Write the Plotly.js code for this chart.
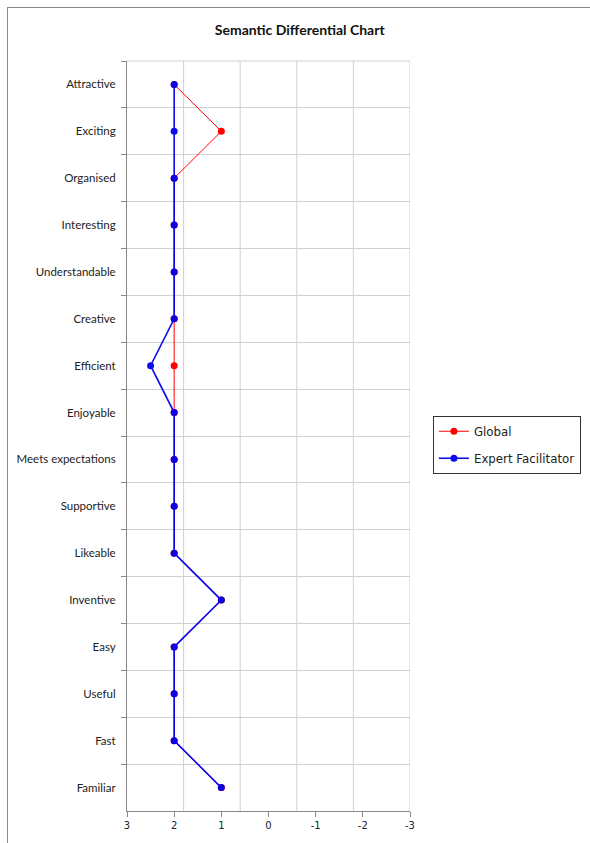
<!DOCTYPE html>
<html>
<head>
<meta charset="utf-8">
<script src="https://cdn.plot.ly/plotly-3.0.1.min.js"></script>
<style>
  html, body { margin: 0; padding: 0; background: #fff; }
  #frame {
    position: absolute; left: 7px; top: 7px; right: 0; bottom: 0;
    border-left: 1.5px solid #8a8a8a; border-top: 1.5px solid #8a8a8a;
  }
  #chart { position: absolute; left: 0; top: 0; width: 590px; height: 843px; }
</style>
</head>
<body>
<div id="frame"></div>
<div id="chart"></div>
<script>
// Adjective pairs, listed from top to bottom
const attributes = [
  "Attractive", "Exciting", "Organised", "Interesting", "Understandable",
  "Creative", "Efficient", "Enjoyable", "Meets expectations", "Supportive",
  "Likeable", "Inventive", "Easy", "Useful", "Fast", "Familiar"
];

// Mean scores on the +3 .. -3 scale
const globalScores = [2, 1, 2, 2, 2, 2, 2, 2, 2, 2, 2, 1, 2, 2, 2, 1];
const facilitatorScores = [2, 2, 2, 2, 2, 2, 2.5, 2, 2, 2, 2, 1, 2, 2, 2, 1];

// Scale labels along the bottom
const scaleValues = [3, 2, 1, 0, -1, -2, -3];
const scaleLabels = ["3", "2", "1", "0", "-1", "-2", "-3"];

// Vertical grid positions (major unit of 1.2 from the left edge)
const gridValues = [1.8, 0.6, -0.6, -1.8, -3];

const labelFont = { family: "Lato, 'Open Sans', sans-serif", size: 11.5, color: "#222" };
const gridColor = "#d0d0d0";

const traces = [
  {
    name: "Global",
    x: globalScores,
    y: attributes,
    type: "scatter",
    mode: "lines+markers",
    line: { color: "#ff0000", width: 1 },
    marker: { color: "#ff0000", size: 7 },
    legendgroup: "g1"
  },
  {
    name: "Expert Facilitator",
    x: facilitatorScores,
    y: attributes,
    type: "scatter",
    mode: "lines+markers",
    line: { color: "#0000ee", width: 1.6 },
    marker: { color: "#0000ee", size: 7 },
    opacity: 0.95,
    legendgroup: "g2"
  }
];

// Vertical gridlines on the value scale, plus the top edge of the plot area
const shapes = gridValues.map(v => ({
  type: "line", layer: "below",
  xref: "x", x0: v, x1: v,
  yref: "paper", y0: 0, y1: 1,
  line: { color: gridColor, width: 1 }
}));
shapes.push({
  type: "line", layer: "below",
  xref: "paper", x0: 0, x1: 1,
  yref: "paper", y0: 1, y1: 1,
  line: { color: gridColor, width: 1 }
});

const layout = {
  width: 590,
  height: 843,
  paper_bgcolor: "rgba(0,0,0,0)",
  plot_bgcolor: "#fff",
  margin: { l: 127, r: 180, t: 61, b: 32, autoexpand: false },
  title: {
    text: "<b>Semantic Differential Chart</b>",
    font: { family: "Lato, 'Open Sans', sans-serif", size: 14, color: "#111" },
    xref: "container", x: 0.508, xanchor: "center",
    yref: "container", y: 0.964, yanchor: "middle"
  },
  xaxis: {
    range: [3, -3],
    tickvals: scaleValues,
    ticktext: scaleLabels,
    ticks: "outside", ticklen: 5, tickcolor: "#888",
    showline: true, linecolor: "#888", linewidth: 1,
    showgrid: false, zeroline: false,
    tickfont: { family: "'DejaVu Sans', sans-serif", size: 10, color: "#222" },
    fixedrange: true
  },
  yaxis: {
    type: "category",
    categoryorder: "array",
    categoryarray: attributes,
    range: [15.5, -0.5],
    tickson: "boundaries",
    ticks: "outside", ticklen: 5, tickcolor: "#888",
    showline: true, linecolor: "#888", linewidth: 1,
    showgrid: true, gridcolor: gridColor, gridwidth: 1,
    tickfont: labelFont,
    ticklabelstandoff: 8,
    fixedrange: true
  },
  shapes: shapes,
  showlegend: true,
  legend: {
    x: 1.081, xanchor: "left",
    y: 0.527, yanchor: "top",
    bordercolor: "#333", borderwidth: 1,
    bgcolor: "#fff",
    tracegroupgap: 8,
    font: { family: "'DejaVu Sans', sans-serif", size: 11.8, color: "#222" }
  }
};

Plotly.newPlot("chart", traces, layout, { displayModeBar: false, staticPlot: true });
</script>
</body>
</html>
